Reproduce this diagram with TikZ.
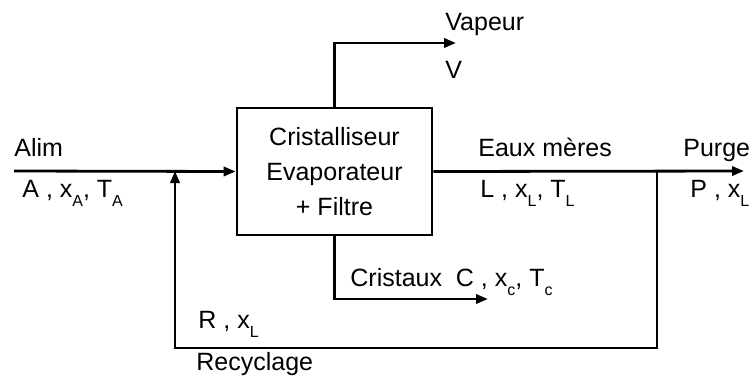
\documentclass[tikz,border=0pt]{standalone}
\usepackage{fontspec}
\setmainfont{Liberation Sans}
\usepackage{tikz}
\usetikzlibrary{arrows.meta,positioning,calc}
\definecolor{inkline}{HTML}{000000}
\newcommand{\idx}[1]{\raisebox{-0.7ex}{\fontsize{8}{9}\selectfont #1}}
\tikzset{
  procbox/.style={
    draw=inkline,
    line width=1.4pt,
    align=center,
    minimum width=97.5pt,
    minimum height=63.5pt,
    inner sep=0pt
  },
  flowlabel/.style={anchor=base west, inner sep=0pt},
  flow/.style={-{Triangle[length=6pt,width=4.6pt]}, line width=1.4pt, draw=inkline},
  pipe/.style={line width=1.4pt, draw=inkline}
}

\begin{document}
\begin{tikzpicture}[x=0.5pt,y=-0.5pt, font=\fontsize{12.5}{17.5}\selectfont]
  \useasboundingbox (0,0) rectangle (753,386);

  \node[procbox] (cryst) at (334.5,171.5) {Cristalliseur\\Evaporateur\\+ Filtre};

  \coordinate (feed) at (14,171);
  \coordinate (join) at (175,171);
  \coordinate (split) at (657,171);
  \coordinate (purge) at (744,171);
  \coordinate (recbot) at (657,348);
  \coordinate (vapend) at (456,43);
  \coordinate (crysend) at (488,299);

  \node[flowlabel] (alim) at (14,156) {Alim};
  \node[flowlabel] (alimdata) at (22,197) {A , x\idx{A}, T\idx{A}};
  \node[flowlabel] (vapeur) at (445,30) {Vapeur};
  \node[flowlabel] (vapdata) at (445,78) {V};
  \node[flowlabel] (eaux) at (478,156) {Eaux mères};
  \node[flowlabel] (eauxdata) at (480,197) {L , x\idx{L}, T\idx{L}};
  \node[flowlabel] (purgelbl) at (683,156) {Purge};
  \node[flowlabel] (purgedata) at (690,197) {P , x\idx{L}};
  \node[flowlabel] (cristaux) at (350,286) {Cristaux\ \ C , x\idx{c}, T\idx{c}};
  \node[flowlabel] (recdata) at (198,328) {R , x\idx{L}};
  \node[flowlabel] (recyclage) at (196,370) {Recyclage};

  \draw[flow] (feed) -- (cryst.west);
  \draw[flow] (cryst.north) |- (vapend);
  \draw[flow] (cryst.south) |- (crysend);
  \draw[flow] (cryst.east) -- (purge);
  \draw[flow] (split) -- (recbot) -| (join);
\end{tikzpicture}
\end{document}
